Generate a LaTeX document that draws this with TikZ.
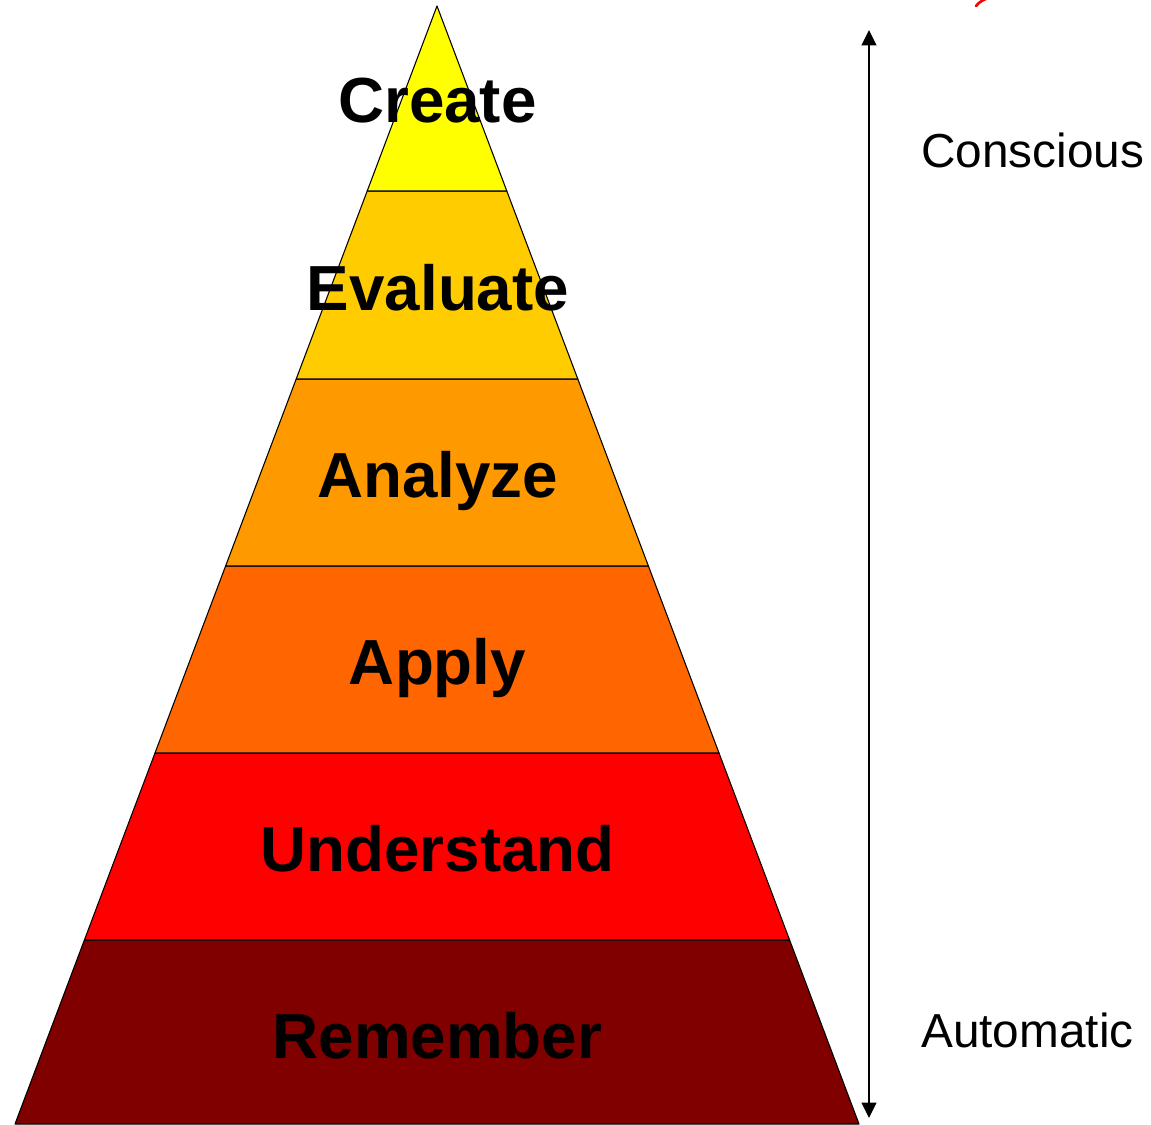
\documentclass[tikz,border=0pt]{standalone}
\usepackage{fontspec}
\setmainfont{Liberation Sans}
\usepackage{tikz}
\usetikzlibrary{arrows.meta}

\definecolor{lvlcreate}{RGB}{255,255,0}
\definecolor{lvlevaluate}{RGB}{255,204,0}
\definecolor{lvlanalyze}{RGB}{255,153,0}
\definecolor{lvlapply}{RGB}{255,102,0}
\definecolor{lvlunderstand}{RGB}{255,0,0}
\definecolor{lvlremember}{RGB}{128,0,0}

\tikzset{
  layer/.style={draw=black, line width=0.8pt, line join=round},
  layerlabel/.style={anchor=base, inner sep=0.75pt, font=\fontsize{47.8}{50}\selectfont\bfseries},
  sidelabel/.style={anchor=base west, inner sep=0.75pt, font=\fontsize{35.8}{40}\selectfont},
}

\begin{document}
\begin{tikzpicture}[x=0.75pt,y=0.75pt,yscale=-1,xscale=1]
\useasboundingbox (0,0) rectangle (1151,1124);

%Pyramid layers
\draw [layer, fill=lvlremember]   (84.4,940) -- (789.6,940) -- (859,1124) -- (15,1124) -- cycle ;
\draw [layer, fill=lvlunderstand] (155,753) -- (719,753) -- (789.6,940) -- (84.4,940) -- cycle ;
\draw [layer, fill=lvlapply]      (225.6,566) -- (648.4,566) -- (719,753) -- (155,753) -- cycle ;
\draw [layer, fill=lvlanalyze]    (296.2,379) -- (577.8,379) -- (648.4,566) -- (225.6,566) -- cycle ;
\draw [layer, fill=lvlevaluate]   (367.2,191) -- (506.8,191) -- (577.8,379) -- (296.2,379) -- cycle ;
\draw [layer, fill=lvlcreate]     (437,6) -- (506.8,191) -- (367.2,191) -- cycle ;

% Text Node
\node [layerlabel] (create)     at (437.5,122.5)  {Create};
% Text Node
\node [layerlabel] (evaluate)   at (438,310)    {Evaluate};
% Text Node
\node [layerlabel] (analyze)    at (437.5,497.5)  {Analyze};
% Text Node
\node [layerlabel] (apply)      at (437.5,684.5)  {Apply};
% Text Node
\node [layerlabel] (understand) at (437.5,871.5)  {Understand};
% Text Node
\node [layerlabel] (remember)   at (437.5,1058.5) {Remember};

%Double arrow
\coordinate (scaletop) at (869,30);
\coordinate (scalebot) at (869,1118);
\draw [line width=1.3pt, {Triangle[length=11.5pt,width=11pt]}-{Triangle[length=11.5pt,width=11pt]}] (scaletop) -- (scalebot) ;

% Text Node
\node [sidelabel] (conscious) at (920,167)  {Conscious};
% Text Node
\node [sidelabel] (automatic) at (920,1047) {Automatic};

%Red mark
\draw [red, line width=2pt, line cap=round] (976,6) .. controls (979,2) and (983,0) .. (988,-2) ;

\end{tikzpicture}
\end{document}
